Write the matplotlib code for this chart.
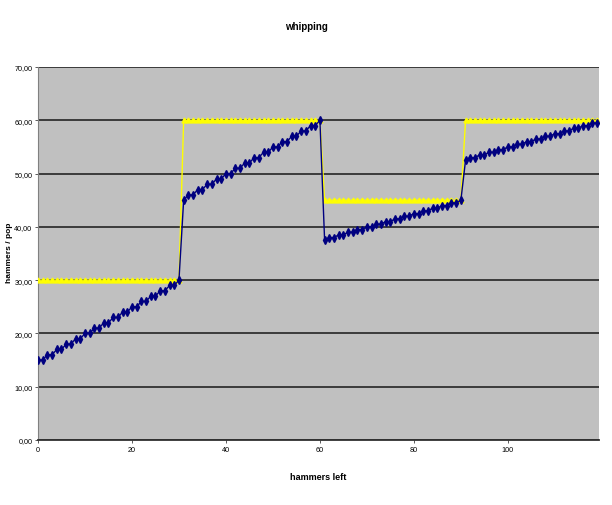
import matplotlib
matplotlib.use('Agg')
import matplotlib.pyplot as plt
from matplotlib.ticker import FuncFormatter

plt.rcParams['font.family'] = ['Liberation Sans Narrow', 'Liberation Sans', 'DejaVu Sans']

# hammers left, 0..119
hammers_left = list(range(120))

# blue series: hammers / pop
hammers_pop = [
    15, 15, 16, 16, 17, 17, 18, 18, 19, 19, 20, 20, 21, 21, 22, 22,
    23, 23, 24, 24, 25, 25, 26, 26, 27, 27, 28, 28, 29, 29, 30,
    45, 46, 46, 47, 47, 48, 48, 49, 49, 50, 50, 51, 51, 52, 52,
    53, 53, 54, 54, 55, 55, 56, 56, 57, 57, 58, 58, 59, 59, 60,
    37.5, 38, 38, 38.5, 38.5, 39, 39, 39.5, 39.5, 40, 40, 40.5, 40.5,
    41, 41, 41.5, 41.5, 42, 42, 42.5, 42.5, 43, 43, 43.5, 43.5,
    44, 44, 44.5, 44.5, 45,
    52.5, 53, 53, 53.5, 53.5, 54, 54, 54.5, 54.5, 55, 55, 55.5, 55.5,
    56, 56, 56.5, 56.5, 57, 57, 57.5, 57.5, 58, 58, 58.5, 58.5,
    59, 59, 59.5, 59.5,
]

# yellow series: ceiling level
ceiling = [30] * 31 + [60] * 30 + [45] * 30 + [60] * 29

fig = plt.figure(figsize=(6.12, 5.06), dpi=100)
ax = fig.add_axes([38 / 612, 1 - 441 / 506, (599 - 38) / 612, (441 - 68) / 506])
ax.set_facecolor('#C0C0C0')

ax.plot(hammers_left, ceiling, color='#FFFF00', lw=1, marker='^', ms=3.5,
        mec='#FFFF00', mfc='#FFFF00', zorder=3)
ax.plot(hammers_left, hammers_pop, color='#000080', lw=1, marker='d', ms=4,
        mec='#000080', mfc='#000080', zorder=4)

ax.set_xlim(0, 119.4)
ax.set_ylim(0, 70)
ax.set_yticks(range(0, 71, 10))
ax.set_xticks(range(0, 101, 20))
ax.yaxis.set_major_formatter(FuncFormatter(lambda v, p: f'{v:.2f}'.replace('.', ',')))
ax.grid(axis='y', color='#303030', lw=1.3)
ax.set_axisbelow(True)

for s in ['top', 'right']:
    ax.spines[s].set_visible(False)
ax.spines['left'].set_color('#808080')
ax.spines['left'].set_linewidth(0.8)
ax.spines['bottom'].set_color('#303030')
ax.spines['bottom'].set_linewidth(1.3)
ax.tick_params(labelsize=5.2, length=2.5, width=0.6, color='#404040', pad=1.5)

ax.set_xlabel('hammers left', fontsize=6.5, fontweight='bold', labelpad=14)
fig.text(10 / 612, 1 - 253 / 506, 'hammers / pop', rotation=90, ha='center',
         va='center', fontsize=6, fontweight='bold')
fig.text(0.5, 1 - 27 / 506, 'whipping', ha='center', va='center',
         fontsize=7, fontweight='bold')

fig.savefig('out.png', dpi=100)
